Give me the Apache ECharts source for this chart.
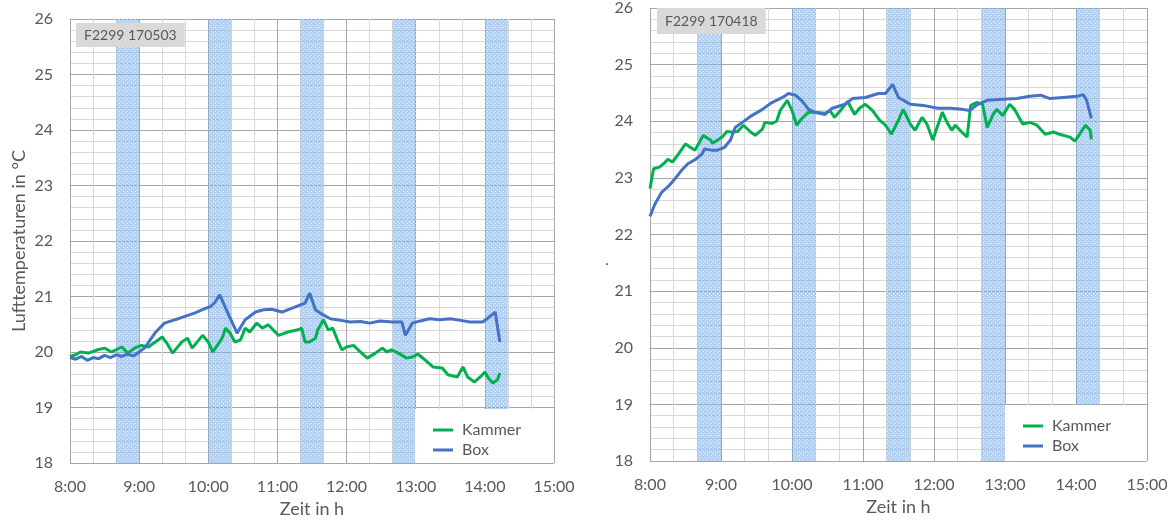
<!DOCTYPE html>
<html>
<head>
<meta charset="utf-8">
<script src="https://cdn.jsdelivr.net/npm/echarts@6/dist/echarts.min.js"></script>
<style>
  html, body { margin: 0; padding: 0; background: #fff; }
  #chart { width: 1176px; height: 524px; }
</style>
</head>
<body>
<div id="chart"></div>
<script>
// Time in minutes after 8:00, air temperature in °C
const leftKammer = [
  [0, 19.92], [5, 19.95], [9, 20.0], [16, 19.98], [24, 20.04], [30, 20.07], [36, 20.0], [45, 20.09],
  [50, 19.98], [56, 20.07], [62, 20.12], [68, 20.09], [74, 20.18], [80, 20.27], [84, 20.16], [89, 19.98],
  [97, 20.18], [102, 20.25], [106, 20.07], [115, 20.3], [120, 20.18], [124, 20.0], [132, 20.25], [135, 20.43],
  [139, 20.34], [143, 20.18], [148, 20.22], [152, 20.43], [156, 20.36], [162, 20.52], [167, 20.43], [172, 20.49],
  [181, 20.3], [189, 20.36], [198, 20.4], [201, 20.43], [204, 20.18], [208, 20.18], [213, 20.25], [215, 20.4],
  [220, 20.58], [224, 20.4], [228, 20.43], [232, 20.22], [236, 20.04], [240, 20.09], [246, 20.12], [250, 20.04],
  [258, 19.89], [265, 19.98], [271, 20.07], [275, 20.0], [279, 20.04], [285, 19.98], [292, 19.89], [297, 19.91],
  [302, 19.96], [308, 19.86], [315, 19.73], [323, 19.71], [328, 19.59], [336, 19.55], [341, 19.73], [345, 19.55],
  [351, 19.46], [356, 19.55], [360, 19.64], [363, 19.53], [367, 19.44], [371, 19.5], [373, 19.62]
];
const leftBox = [
  [0, 19.9], [5, 19.87], [10, 19.92], [15, 19.85], [20, 19.9], [25, 19.88], [30, 19.94], [35, 19.9],
  [40, 19.95], [45, 19.92], [50, 19.96], [55, 19.93], [60, 20.0], [65, 20.08], [69, 20.2], [74, 20.35],
  [82, 20.52], [88, 20.56], [94, 20.6], [101, 20.65], [108, 20.7], [117, 20.78], [122, 20.82], [126, 20.9],
  [130, 21.03], [137, 20.7], [145, 20.34], [152, 20.58], [161, 20.72], [168, 20.76], [175, 20.77], [184, 20.72],
  [195, 20.81], [204, 20.88], [208, 21.06], [213, 20.76], [217, 20.7], [226, 20.6], [235, 20.57], [243, 20.54],
  [252, 20.55], [260, 20.52], [269, 20.56], [280, 20.54], [288, 20.54], [291, 20.3], [297, 20.52], [304, 20.56],
  [312, 20.6], [321, 20.58], [330, 20.6], [339, 20.57], [347, 20.54], [358, 20.54], [362, 20.6], [369, 20.72],
  [373, 20.18]
];
const rightKammer = [
  [0, 22.81], [3, 23.16], [8, 23.19], [13, 23.28], [15, 23.33], [19, 23.28], [24, 23.42], [30, 23.6],
  [34, 23.54], [38, 23.49], [45, 23.75], [51, 23.67], [53, 23.61], [61, 23.72], [65, 23.82], [69, 23.81],
  [74, 23.82], [79, 23.93], [85, 23.81], [89, 23.75], [95, 23.86], [97, 23.98], [103, 23.96], [107, 24.0],
  [110, 24.19], [116, 24.37], [120, 24.19], [124, 23.93], [128, 24.04], [134, 24.16], [139, 24.16], [148, 24.14],
  [152, 24.19], [156, 24.07], [161, 24.19], [167, 24.35], [173, 24.12], [177, 24.23], [182, 24.3], [188, 24.19],
  [194, 24.02], [199, 23.93], [204, 23.77], [210, 24.02], [214, 24.21], [220, 23.95], [224, 23.84], [230, 24.07],
  [234, 23.95], [239, 23.67], [247, 24.16], [251, 23.98], [255, 23.84], [258, 23.93], [262, 23.84], [268, 23.72],
  [271, 24.28], [276, 24.33], [281, 24.3], [285, 23.89], [290, 24.12], [293, 24.21], [298, 24.1], [304, 24.3],
  [308, 24.21], [315, 23.95], [321, 23.98], [327, 23.93], [334, 23.77], [341, 23.81], [346, 23.77], [355, 23.72],
  [359, 23.65], [363, 23.77], [368, 23.93], [372, 23.84], [373, 23.68]
];
const rightBox = [
  [0, 22.32], [4, 22.53], [10, 22.75], [15, 22.84], [21, 22.98], [27, 23.14], [32, 23.25], [38, 23.32],
  [44, 23.42], [46, 23.51], [52, 23.49], [57, 23.49], [63, 23.54], [68, 23.67], [72, 23.89], [78, 23.98],
  [86, 24.1], [95, 24.21], [103, 24.33], [112, 24.42], [117, 24.49], [123, 24.46], [128, 24.37], [134, 24.21],
  [139, 24.16], [148, 24.12], [154, 24.23], [165, 24.3], [171, 24.4], [182, 24.42], [193, 24.49], [199, 24.49],
  [205, 24.65], [210, 24.42], [220, 24.3], [231, 24.28], [243, 24.23], [254, 24.23], [264, 24.21], [270, 24.19],
  [277, 24.3], [285, 24.37], [298, 24.39], [310, 24.4], [321, 24.44], [330, 24.46], [338, 24.4], [349, 24.42],
  [361, 24.44], [366, 24.47], [369, 24.37], [373, 24.05]
];
// Shaded intervals [start, end] in minutes after 8:00
const bands = [[40, 60], [120, 140], [200, 220], [280, 300], [360, 380]];
const seriesNames = ['Kammer', 'Box'];
const panelTitles = ['F2299 170503', 'F2299 170418'];
const yAxisTitle = 'Lufttemperaturen in °C';
const xAxisTitle = 'Zeit in h';

const FONT = 'Lato, "Noto Sans", sans-serif';
const TXT = '#595959';
const GREEN = '#00b050';
const BLUE = '#4472c4';

// light dotted fill for the shaded intervals
function makePattern() {
  const c = document.createElement('canvas');
  c.width = 4; c.height = 4;
  const g = c.getContext('2d');
  g.fillStyle = 'rgba(120,172,230,0.55)';
  g.fillRect(0, 0, 4, 4);
  g.clearRect(1, 1, 1, 1);
  g.clearRect(3, 3, 1, 1);
  g.fillStyle = 'rgba(225,238,252,0.85)';
  g.fillRect(1, 1, 1, 1);
  g.fillRect(3, 3, 1, 1);
  return c;
}
const pattern = makePattern();

const grids = [
  { left: 70, right: 622, top: 19, bottom: 61 },
  { left: 650, right: 29, top: 5, bottom: 63 }
];

function xAxis(i) {
  return {
    type: 'value', gridIndex: i, min: 0, max: 420, interval: 60,
    name: xAxisTitle, nameLocation: 'middle', nameGap: 35,
    nameTextStyle: { fontSize: 18, color: TXT, fontFamily: FONT },
    axisLine: { show: false }, axisTick: { show: false },
    axisLabel: { fontSize: 16, color: TXT, fontFamily: FONT, margin: 16,
      formatter: v => (8 + v / 60) + ':00' },
    splitLine: { show: true, lineStyle: { color: '#a6a6a6', width: 1 } },
    minorTick: { show: false, splitNumber: 3 },
    minorSplitLine: { show: true, lineStyle: { color: '#d9d9d9', width: 1 } }
  };
}
function yAxis(i) {
  return {
    type: 'value', gridIndex: i, min: 18, max: 26, interval: 1,
    name: i === 0 ? yAxisTitle : '', nameLocation: 'middle', nameGap: 42,
    nameTextStyle: { fontSize: 18, color: TXT, fontFamily: FONT },
    axisLine: { show: false }, axisTick: { show: false },
    axisLabel: { fontSize: 16, color: TXT, fontFamily: FONT, margin: 17 },
    splitLine: { show: true, lineStyle: { color: '#a6a6a6', width: 1 } },
    minorTick: { show: false, splitNumber: 5 },
    minorSplitLine: { show: true, lineStyle: { color: '#d9d9d9', width: 1 } }
  };
}
function bandSeries(i) {
  return {
    type: 'line', name: 'bands' + i, xAxisIndex: i, yAxisIndex: i, data: [], z: 1,
    silent: true,
    markArea: {
      silent: true,
      itemStyle: { color: { image: pattern, repeat: 'repeat' } },
      data: bands.map(b => [{ xAxis: b[0], yAxis: 18 }, { xAxis: b[1], yAxis: 26 }])
    }
  };
}
function lineSeries(i, name, data, color) {
  return {
    type: 'line', name, xAxisIndex: i, yAxisIndex: i, data, z: 3,
    showSymbol: false, symbol: 'none', smooth: false,
    lineStyle: { color, width: 3 }, itemStyle: { color }
  };
}
function legend(left, top) {
  return {
    left, top, orient: 'vertical', data: seriesNames, icon: 'rect',
    itemWidth: 20, itemHeight: 3, itemGap: 4, z: 10,
    textStyle: { fontSize: 16, color: TXT, fontFamily: FONT, padding: [0, 0, 0, 4] }
  };
}
function titleBox(text, left, top, pad) {
  return {
    text, left, top, padding: pad, backgroundColor: '#d9d9d9',
    textStyle: { fontSize: 14, fontWeight: 'normal', color: TXT, fontFamily: FONT }
  };
}

const chart = echarts.init(document.getElementById('chart'), null, { renderer: 'canvas' });
chart.setOption({
  animation: false,
  backgroundColor: '#fff',
  title: [titleBox(panelTitles[0], 76, 23, [5, 8]), titleBox(panelTitles[1], 657, 8, [6, 8])],
  grid: grids,
  xAxis: [xAxis(0), xAxis(1)],
  yAxis: [yAxis(0), yAxis(1)],
  legend: [legend(428, 417), legend(1018, 413)],
  graphic: [
    { type: 'rect', z: 5, shape: { x: 415, y: 409, width: 139, height: 54 }, style: { fill: '#fff' } },
    { type: 'rect', z: 5, shape: { x: 1005, y: 405, width: 142, height: 56 }, style: { fill: '#fff' } },
    { type: 'text', z: 5, x: 605, y: 252, style: { text: '.', font: '16px ' + FONT, fill: TXT } }
  ],
  series: [
    bandSeries(0), bandSeries(1),
    lineSeries(0, seriesNames[0], leftKammer, GREEN),
    lineSeries(0, seriesNames[1], leftBox, BLUE),
    lineSeries(1, seriesNames[0], rightKammer, GREEN),
    lineSeries(1, seriesNames[1], rightBox, BLUE)
  ]
});
</script>
</body>
</html>
